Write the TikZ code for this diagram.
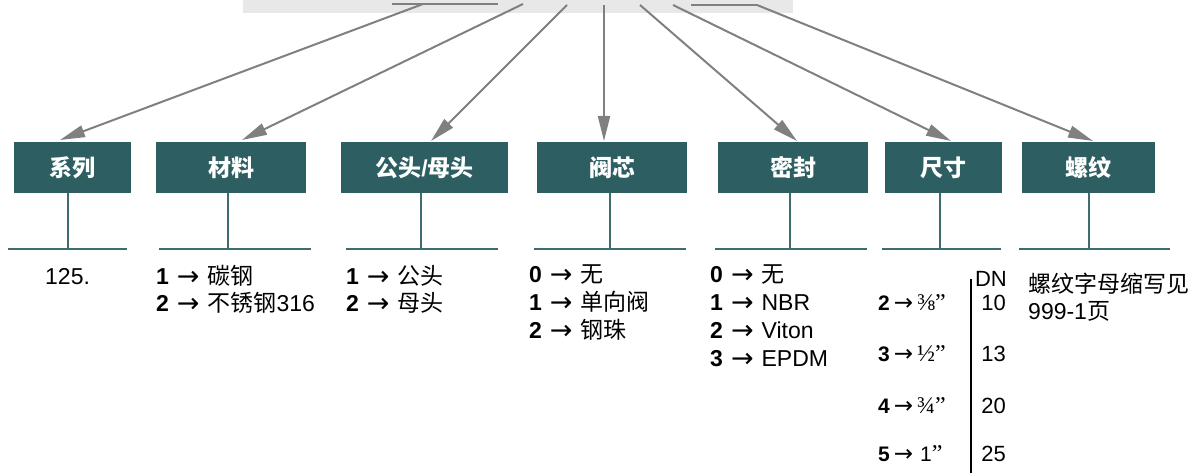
\documentclass[tikz,border=0pt]{standalone}
\usepackage{fontspec}
\setmainfont{Liberation Sans}
\newfontfamily\cjk{Noto Sans CJK SC}
\newfontfamily\tnr{Liberation Serif}
\newfontfamily\dv{DejaVu Sans}
\newcommand\zh[1]{{\cjk #1}}
\newcommand\ra{\hspace{8pt}\raisebox{-1pt}{\dv\fontsize{27}{27}\selectfont →}\hspace{8pt}}
\newcommand\sra{\hspace{4pt}\raisebox{-0.5pt}{\dv\fontsize{23}{23}\selectfont →}\hspace{4pt}}
\newcommand\frc[1]{{\tnr\fontsize{24}{24}\selectfont #1”}}
\usetikzlibrary{arrows.meta}
\definecolor{boxteal}{RGB}{45,94,97}
\definecolor{lineteal}{RGB}{62,108,111}
\definecolor{arrgrey}{RGB}{128,128,128}
\definecolor{topgrey}{RGB}{232,232,232}
\begin{document}
\begin{tikzpicture}[x=1pt,y=-1pt,
  catbox/.style={fill=boxteal, text=white, inner sep=0, minimum height=51pt,
    font=\fontsize{23}{27}\selectfont\bfseries},
  arr/.style={draw=arrgrey, line width=2pt, -{Triangle[length=25pt,width=12pt]}},
  arrline/.style={draw=arrgrey, line width=2pt},
  stemline/.style={draw=lineteal, line width=2pt},
  uline/.style={draw=lineteal, line width=2.5pt},
  item/.style={anchor=base west, inner sep=0, font=\fontsize{23}{27}\selectfont},
  sizeitem/.style={anchor=base west, inner sep=0, font=\fontsize{21}{24}\selectfont},
  dnitem/.style={anchor=base east, inner sep=0, font=\fontsize{22}{26}\selectfont}]
\useasboundingbox (0,0) rectangle (1196,473);

% top grey bar
\node[fill=topgrey, minimum width=550pt, minimum height=13pt, inner sep=0, anchor=north west] (top) at (243,0) {};

% category boxes
\node[catbox, minimum width=117pt] (b1) at (72.5,167.5) {\zh{系列}};
\node[catbox, minimum width=150pt] (b2) at (231,167.5) {\zh{材料}};
\node[catbox, minimum width=167pt] (b3) at (424.5,167.5) {\zh{公头}/\zh{母头}};
\node[catbox, minimum width=150pt] (b4) at (612,167.5) {\zh{阀芯}};
\node[catbox, minimum width=150pt] (b5) at (793,167.5) {\zh{密封}};
\node[catbox, minimum width=117pt] (b6) at (943.5,167.5) {\zh{尺寸}};
\node[catbox, minimum width=133pt] (b7) at (1088.5,167.5) {\zh{螺纹}};

% arrow start / end points
\coordinate (s1) at (423,4);   \coordinate (t1) at (60,140);
\coordinate (s2) at (523,4);   \coordinate (t2) at (242,140);
\coordinate (s3) at (567,5);   \coordinate (t3) at (431,141);
\coordinate (s4) at (604,5);   \coordinate (t4) at (604,141);
\coordinate (s5) at (640,5);   \coordinate (t5) at (797,141);
\coordinate (s6) at (673,5);   \coordinate (t6) at (951,141);
\coordinate (s7) at (757,5);   \coordinate (t7) at (1093,141);
\coordinate (h1a) at (392,4);  \coordinate (h1b) at (498,4);
\coordinate (h2a) at (691,5);

\draw[arrline] (h1a) -- (h1b);
\draw[arrline] (h2a) -- (s7);
\draw[arr] (s1) -- (t1);
\draw[arr] (s2) -- (t2);
\draw[arr] (s3) -- (t3);
\draw[arr] (s4) -- (t4);
\draw[arr] (s5) -- (t5);
\draw[arr] (s6) -- (t6);
\draw[arr] (s7) -- (t7);

% stems and underlines
\coordinate (u1) at (68,249);
\coordinate (u2) at (228,249);
\coordinate (u3) at (421,249);
\coordinate (u4) at (609.5,249);
\coordinate (u5) at (790,249);
\coordinate (u6) at (939.5,249);
\coordinate (u7) at (1088.5,249);
\draw[stemline] (u1 |- b1.south) -- (u1);
\draw[stemline] (u2 |- b2.south) -- (u2);
\draw[stemline] (u3 |- b3.south) -- (u3);
\draw[stemline] (u4 |- b4.south) -- (u4);
\draw[stemline] (u5 |- b5.south) -- (u5);
\draw[stemline] (u6 |- b6.south) -- (u6);
\draw[stemline] (u7 |- b7.south) -- (u7);
\draw[uline] (8,249) -- (127,249);
\draw[uline] (159,249) -- (311,249);
\draw[uline] (346,249) -- (498,249);
\draw[uline] (534,249) -- (686,249);
\draw[uline] (715,249) -- (867,249);
\draw[uline] (882,249) -- (1001,249);
\draw[uline] (1019,249) -- (1170,249);

% lists
\node[item] (l1a) at (45,284) {125.};

\node[item] (l2a) at (156,284) {\textbf{1}\ra\zh{碳钢}};
\node[item] (l2b) at (156,311) {\textbf{2}\ra\zh{不锈钢}316};

\node[item] (l3a) at (346,284) {\textbf{1}\ra\zh{公头}};
\node[item] (l3b) at (346,311) {\textbf{2}\ra\zh{母头}};

\node[item] (l4a) at (529,282) {\textbf{0}\ra\zh{无}};
\node[item] (l4b) at (529,310) {\textbf{1}\ra\zh{单向阀}};
\node[item] (l4c) at (529,338) {\textbf{2}\ra\zh{钢珠}};

\node[item] (l5a) at (710,282) {\textbf{0}\ra\zh{无}};
\node[item] (l5b) at (710,310) {\textbf{1}\ra NBR};
\node[item] (l5c) at (710,338) {\textbf{2}\ra Viton};
\node[item] (l5d) at (710,366) {\textbf{3}\ra EPDM};

% size column
\node[dnitem] (dn) at (1007,286) {DN};
\draw[line width=2pt] (971,279) -- (971,473);
\node[sizeitem] (l6a) at (878,310) {\textbf{2}\sra\frc{⅜}};
\node[sizeitem] (l6b) at (878,361) {\textbf{3}\sra\frc{½}};
\node[sizeitem] (l6c) at (878,413) {\textbf{4}\sra\frc{¾}};
\node[sizeitem] (l6d) at (878,461) {\textbf{5}\sra\hspace{3pt}1{\tnr\fontsize{24}{24}\selectfont ”}};
\node[dnitem] (d1) at (1006,310) {10};
\node[dnitem] (d2) at (1006,361) {13};
\node[dnitem] (d3) at (1006,413) {20};
\node[dnitem] (d4) at (1006,461) {25};

% thread column
\node[item] (l7a) at (1028,292) {\zh{螺纹字母缩写见}};
\node[item] (l7b) at (1028,319) {999-1\zh{页}};
\end{tikzpicture}
\end{document}
